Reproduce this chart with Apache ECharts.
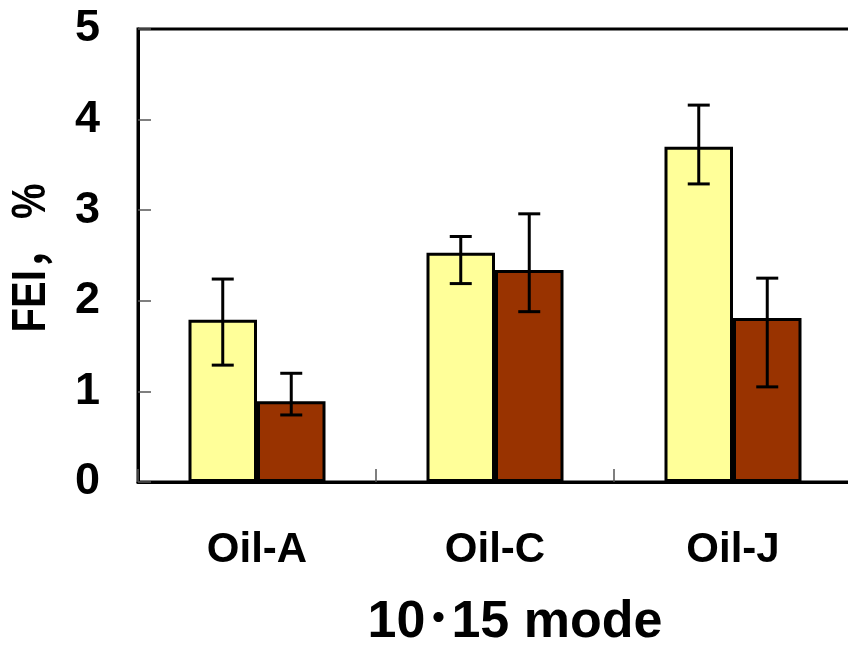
<!DOCTYPE html>
<html>
<head>
<meta charset="utf-8">
<script src="https://cdn.jsdelivr.net/npm/echarts@6/dist/echarts.min.js"></script>
<style>
html,body{margin:0;padding:0;background:#fff;overflow:hidden;}
#chart{width:848px;height:647px;}
</style>
</head>
<body>
<div id="chart"></div>
<script>
var categories = ['Oil-A', 'Oil-C', 'Oil-J'];
var seriesA = [1.79, 2.53, 3.70];
var seriesALow = [1.29, 2.19, 3.29];
var seriesAHigh = [2.24, 2.71, 4.16];
var seriesB = [0.89, 2.34, 1.81];
var seriesBLow = [0.74, 1.88, 1.05];
var seriesBHigh = [1.20, 2.96, 2.25];
var yTicks = [0, 1, 2, 3, 4, 5];
var xTitle = '10･15 mode';
var yTitle = 'FEI， %';

var BAR_W = 68.5;
var FONT = '"Liberation Sans", Arial, "Noto Sans CJK JP", sans-serif';

function errData(low, high) {
  return categories.map(function (c, i) { return [i, low[i], high[i]]; });
}
function errRender(offset) {
  return function (params, api) {
    var lo = api.coord([api.value(0), api.value(1)]);
    var hi = api.coord([api.value(0), api.value(2)]);
    var x = lo[0] + offset;
    var cap = 11;
    var st = { stroke: '#000', lineWidth: 3 };
    return {
      type: 'group',
      children: [
        { type: 'line', shape: { x1: x, y1: lo[1], x2: x, y2: hi[1] }, style: st },
        { type: 'line', shape: { x1: x - cap, y1: lo[1], x2: x + cap, y2: lo[1] }, style: st },
        { type: 'line', shape: { x1: x - cap, y1: hi[1], x2: x + cap, y2: hi[1] }, style: st }
      ]
    };
  };
}

var chart = echarts.init(document.getElementById('chart'), null, { renderer: 'canvas' });
chart.setOption({
  animation: false,
  backgroundColor: '#fff',
  grid: {
    left: 138, top: 29, right: -4, bottom: 165,
    outerBoundsMode: 'none',
    show: true, borderColor: '#000', borderWidth: 3, backgroundColor: 'transparent',
    containLabel: false
  },
  xAxis: {
    type: 'category',
    data: categories,
    axisLine: { show: true, lineStyle: { color: '#000', width: 3 } },
    axisTick: { show: true, inside: true, length: 13, lineStyle: { color: '#555', width: 1.5 } },
    axisLabel: { fontFamily: FONT, fontWeight: 'bold', fontSize: 42, color: '#000', margin: 47 },
    splitLine: { show: false }
  },
  yAxis: {
    type: 'value',
    min: 0, max: 5, interval: 1,
    axisLine: { show: true, lineStyle: { color: '#000', width: 3 } },
    axisTick: { show: true, inside: true, length: 13, lineStyle: { color: '#555', width: 1.5 } },
    axisLabel: {
      fontFamily: FONT, fontWeight: 'bold', fontSize: 45, color: '#000', margin: 38,
      formatter: function (v) { return yTicks.indexOf(v) >= 0 ? String(v) : ''; }
    },
    splitLine: { show: false }
  },
  graphic: [
    {
      type: 'text', x: 515, y: 623,
      style: { text: xTitle, font: 'bold 52px ' + FONT, fill: '#000', align: 'center', verticalAlign: 'middle' }
    },
    {
      type: 'text', x: 32, y: 258, rotation: Math.PI / 2, scaleY: 1.2,
      style: { text: yTitle, font: 'bold 40px ' + FONT, fill: '#000', align: 'center', verticalAlign: 'middle' }
    }
  ],
  series: [
    {
      type: 'bar', data: seriesA, barWidth: BAR_W, barGap: '0%',
      itemStyle: { color: '#FFFF99', borderColor: '#000', borderWidth: 3 }
    },
    {
      type: 'bar', data: seriesB, barWidth: BAR_W, barGap: '0%',
      itemStyle: { color: '#993300', borderColor: '#000', borderWidth: 3 }
    },
    {
      type: 'custom', data: errData(seriesALow, seriesAHigh), renderItem: errRender(-BAR_W / 2), z: 5
    },
    {
      type: 'custom', data: errData(seriesBLow, seriesBHigh), renderItem: errRender(BAR_W / 2), z: 5
    }
  ]
});
</script>
</body>
</html>
